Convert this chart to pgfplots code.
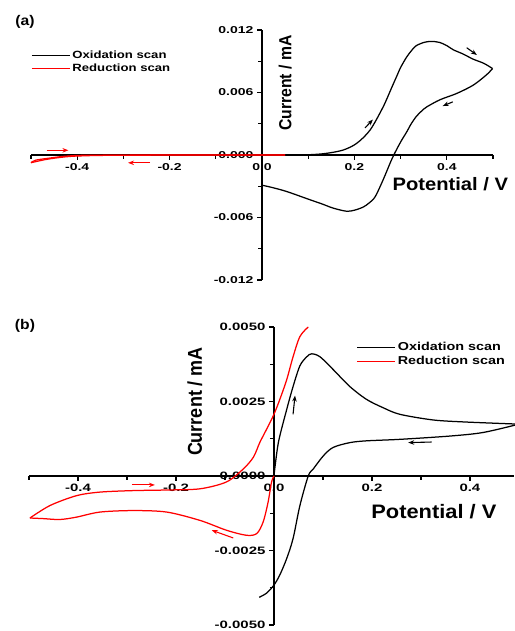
\documentclass[border=0pt]{standalone}
\usepackage{fontspec}
\setmainfont{Liberation Sans}
\newfontfamily\labfont[FakeStretch=1.12]{Liberation Sans Bold}
\newfontfamily\rotfont[FakeStretch=0.9]{Liberation Sans Bold}
\newfontfamily\tickfont[FakeStretch=1.4]{Liberation Sans Bold}
\newfontfamily\legfont[FakeStretch=1.25]{Liberation Sans Bold}
\usepackage{pgfplots}
\pgfplotsset{compat=1.18}
\usetikzlibrary{arrows.meta}

\tikzset{arr/.style={-{Stealth[length=6pt,width=4.5pt]}, line width=1.1pt}}
\pgfplotsset{
  cv/.style={
    scale only axis, axis lines=middle, clip=false,
    axis line style={line width=1.6pt, -},
    tick align=outside, major tick length=5pt, minor tick length=4pt,
    every tick/.style={black, line width=1.3pt},
    hide obscured x ticks=false, hide obscured y ticks=false,
    scaled ticks=false,
    /pgf/number format/assume math mode=true,
    xtick={-0.4,-0.2,0,0.2,0.4},
    minor xtick={-0.5,-0.3,-0.1,0.1,0.3,0.5},
    xticklabel style={/pgf/number format/.cd, fixed, fixed zerofill, precision=1},
    legend cell align=left,
    legend image code/.code={\draw[#1] (0pt,0pt) -- (38pt,0pt);},
    legend style={draw=none, fill=none, inner sep=0pt, row sep=0pt},
  },
  cvline/.style={line width=1.25pt, smooth, tension=0.5},
}

\begin{document}
\begin{tikzpicture}
\useasboundingbox (0,0) rectangle (514pt,631pt);

\node[font=\labfont\fontsize{14}{16}\selectfont] at (25pt,609pt) {(a)};
\node[font=\labfont\fontsize{14}{16}\selectfont] at (25pt,305pt) {(b)};

% panel (a)
\begin{axis}[cv,
  at={(31pt,351pt)}, anchor=south west,
  width=462pt, height=250pt,
  xmin=-0.5, xmax=0.5, ymin=-0.012, ymax=0.012,
  ytick={-0.012,-0.006,0,0.006,0.012},
  minor ytick={-0.009,-0.003,0.003,0.009},
  ticklabel style={font=\tickfont\fontsize{10}{12}\selectfont},
  yticklabel style={/pgf/number format/.cd, fixed, fixed zerofill, precision=3},
  xlabel={Potential / V},
  xlabel style={font=\labfont\fontsize{18}{20}\selectfont,
    at={(rel axis cs:1.04,0.384)}, anchor=east},
  ylabel={Current / mA},
  ylabel style={font=\rotfont\fontsize{17.5}{20}\selectfont,
    at={(rel axis cs:0.55,0.788)}, anchor=center, rotate=90},
  legend style={at={(rel axis cs:0,0.925)}, anchor=north west,
    font=\legfont\fontsize{10.5}{12}\selectfont},
]
% forward
\addplot[cvline, black] coordinates {
  (0.0,0) (0.05,0) (0.104,0.00003) (0.14,0.00016) (0.176,0.00048)
  (0.205,0.00112) (0.234,0.0024) (0.262,0.0046) (0.28,0.0064) (0.291,0.0075)
  (0.30,0.0084) (0.313,0.0094) (0.325,0.0101) (0.334,0.0105) (0.35,0.0108)
  (0.363,0.0109) (0.375,0.01088) (0.385,0.0108) (0.40,0.0105) (0.414,0.0101)
  (0.435,0.0097) (0.457,0.0092) (0.48,0.0088) (0.499,0.0083)
};
\addlegendentry{Oxidation scan}
\addplot[cvline, red] coordinates {
  (0.05,0) (-0.30,-0.00002) (-0.40,-0.0001) (-0.44,-0.00025) (-0.47,-0.00045)
  (-0.5,-0.00074)
};
\addlegendentry{Reduction scan}
% reverse
\addplot[cvline, black, forget plot] coordinates {
  (0.499,0.0083) (0.486,0.0077) (0.457,0.0067) (0.421,0.0059) (0.385,0.0053)
  (0.356,0.0046) (0.345,0.0042) (0.334,0.0037) (0.323,0.0030) (0.313,0.0022)
  (0.302,0.0014) (0.291,0.0005) (0.280,-0.0005) (0.262,-0.0024) (0.245,-0.0040)
  (0.232,-0.0046) (0.219,-0.0050) (0.20,-0.0053) (0.183,-0.0054) (0.154,-0.0051)
  (0.13,-0.0047) (0.104,-0.0043) (0.053,-0.0035) (0.02,-0.0031) (0.0,-0.0029)
};
\addplot[cvline, red, forget plot] coordinates {
  (-0.5,-0.00074) (-0.49,-0.0005) (-0.46,-0.0003) (-0.42,-0.0001)
  (-0.35,-0.00002) (0.05,0)
};
\draw[arr, red] (axis cs:-0.466,0.00045) -- (axis cs:-0.419,0.00045);
\draw[arr, red] (axis cs:-0.242,-0.00075) -- (axis cs:-0.29,-0.00075);
\draw[arr, black] (axis cs:0.223,0.0026) -- (axis cs:0.240,0.0034);
\draw[arr, black] (axis cs:0.443,0.0103) -- (axis cs:0.465,0.0096);
\draw[arr, black] (axis cs:0.413,0.0051) -- (axis cs:0.391,0.0047);
\end{axis}

% panel (b)
\begin{axis}[cv,
  at={(29pt,6pt)}, anchor=south west,
  width=485pt, height=298pt,
  xmin=-0.5, xmax=0.49, ymin=-0.005, ymax=0.005,
  ytick={-0.005,-0.0025,0,0.0025,0.005},
  minor ytick={-0.00375,-0.00125,0.00125,0.00375},
  ticklabel style={font=\tickfont\fontsize{10.7}{12}\selectfont},
  yticklabel style={/pgf/number format/.cd, fixed, fixed zerofill, precision=4},
  xlabel={Potential / V},
  xlabel style={font=\labfont\fontsize{19.5}{22}\selectfont,
    at={(rel axis cs:0.971,0.38)}, anchor=east},
  ylabel={Current / mA},
  ylabel style={font=\rotfont\fontsize{20}{22}\selectfont,
    at={(rel axis cs:0.342,0.75)}, anchor=center, rotate=90},
  legend style={at={(rel axis cs:0.675,0.955)}, anchor=north west,
    font=\legfont\fontsize{11.5}{13}\selectfont},
]
\addplot[cvline, black] coordinates {
  (0,0) (0.009,0.00112) (0.026,0.00223) (0.039,0.0030) (0.053,0.0037)
  (0.067,0.0040) (0.077,0.0041) (0.094,0.0040) (0.121,0.00357) (0.155,0.0030)
  (0.189,0.00257) (0.223,0.00229) (0.257,0.00207) (0.325,0.00188)
  (0.393,0.00181) (0.5,0.00174)
};
\addlegendentry{Oxidation scan}
\addplot[cvline, red] coordinates {
  (0,0) (-0.005,-0.00021) (-0.012,-0.00088) (-0.022,-0.00154) (-0.035,-0.00193)
  (-0.056,-0.00199) (-0.097,-0.00182) (-0.151,-0.00149) (-0.219,-0.00121)
  (-0.287,-0.00116) (-0.355,-0.00121) (-0.403,-0.00138) (-0.437,-0.00146)
  (-0.471,-0.00143) (-0.498,-0.00141)
};
\addlegendentry{Reduction scan}
\addplot[cvline, black, forget plot] coordinates {
  (0.5,0.00174) (0.427,0.00146) (0.359,0.00134) (0.257,0.00123) (0.189,0.00118)
  (0.155,0.00112) (0.121,0.00096) (0.101,0.00068) (0.080,0.00023) (0.070,0.0)
  (0.053,-0.00099) (0.039,-0.0021) (0.026,-0.00277) (0.012,-0.00332)
  (0.0,-0.00366) (-0.015,-0.00393) (-0.030,-0.00407)
};
\addplot[cvline, red, forget plot] coordinates {
  (-0.498,-0.00141)
  (-0.457,-0.00099) (-0.403,-0.00066) (-0.355,-0.00054) (-0.287,-0.00049)
  (-0.219,-0.00047) (-0.151,-0.00043) (-0.097,-0.0002) (-0.063,0.00023)
  (-0.042,0.00063) (-0.029,0.00112) (-0.015,0.00157) (0.0,0.00207)
  (0.012,0.00257) (0.026,0.00323) (0.039,0.0040) (0.053,0.00468) (0.070,0.0050)
};
\draw[arr, black] (axis cs:0.039,0.00207) -- (axis cs:0.043,0.0027);
\draw[arr, black] (axis cs:0.322,0.00114) -- (axis cs:0.274,0.00112);
\draw[arr, red] (axis cs:-0.29,-0.0003) -- (axis cs:-0.243,-0.0003);
\draw[arr, red] (axis cs:-0.083,-0.00208) -- (axis cs:-0.127,-0.00182);
\end{axis}
\end{tikzpicture}
\end{document}
